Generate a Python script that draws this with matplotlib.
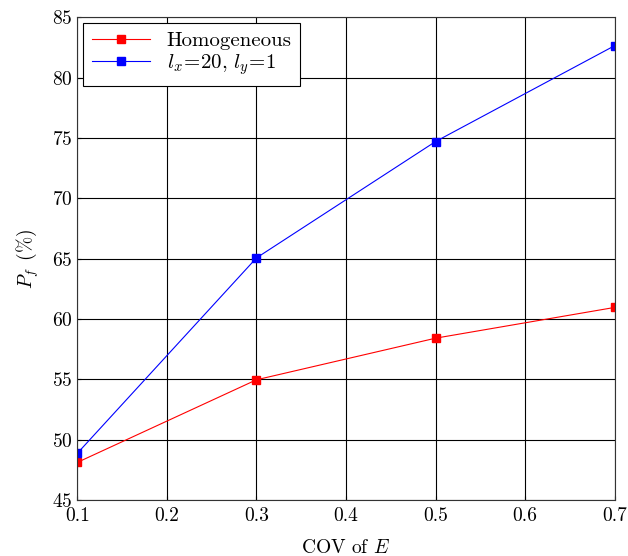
import matplotlib

matplotlib.use("Agg")
import matplotlib.pyplot as plt

plt.rcParams["font.family"] = "cmr10"
plt.rcParams["mathtext.fontset"] = "cm"
plt.rcParams["axes.formatter.use_mathtext"] = True

cov = [0.1, 0.3, 0.5, 0.7]
homogeneous = [48.1, 54.95, 58.4, 60.95]
anisotropic = [48.85, 65.05, 74.7, 82.65]

fig, ax = plt.subplots(figsize=(6.28, 5.56), dpi=100)
fig.subplots_adjust(left=0.123, right=0.979, top=0.969, bottom=0.101)

ax.plot(cov, homogeneous, color="red", lw=0.8, marker="s", ms=6, label="Homogeneous")
ax.plot(cov, anisotropic, color="blue", lw=0.8, marker="s", ms=6,
        label=r"$l_x\!=\!20,\,l_y\!=\!1$")

ax.set_xlim(0.1, 0.7)
ax.set_ylim(45, 85)
ax.set_xticks([0.1, 0.2, 0.3, 0.4, 0.5, 0.6, 0.7])
ax.set_xticklabels(["0.1", "0.2", "0.3", "0.4", "0.5", "0.6", "0.7"])
ax.set_yticks(range(45, 86, 5))
ax.grid(True, color="black", lw=0.8)
ax.tick_params(direction="in", labelsize=14, length=3, width=0.8)
ax.tick_params(axis="x", pad=5)
for s in ax.spines.values():
    s.set_linewidth(0.8)
    s.set_color("#333333")

ax.set_xlabel(r"COV of $E$", fontsize=14, labelpad=10)
ax.set_ylabel(r"$P_f\ \,(\%)$", fontsize=14, labelpad=8)

leg = ax.legend(loc="upper left", fontsize=15, frameon=True, fancybox=False,
                edgecolor="black", framealpha=1, handlelength=2.8,
                borderaxespad=0.3, labelspacing=0.1, borderpad=0.4)
leg.get_frame().set_linewidth(0.8)

fig.savefig("out.png", dpi=100)
